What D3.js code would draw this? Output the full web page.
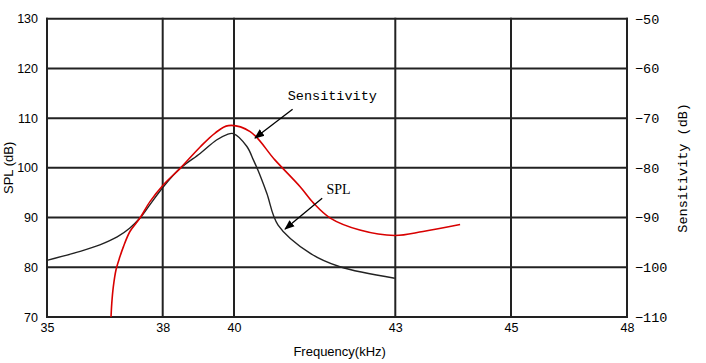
<!DOCTYPE html>
<html>
<head>
<meta charset="utf-8">
<script src="https://cdn.jsdelivr.net/npm/d3@7"></script>
<style>
body { margin: 0; background: #fff; }
.grid line { stroke: #222; stroke-width: 2; }
.axis text { fill: #000; }
</style>
</head>
<body>
<script>
// x ticks (the original grid is not evenly spaced between labels)
var freqTicks = [35, 38, 40, 43, 45, 48];
var splTicks = [70, 80, 90, 100, 110, 120, 130];
var sensTicks = [-110, -100, -90, -80, -70, -60, -50];

// SPL curve (kHz, dB)
var splFreq = [35.00, 35.86, 36.37, 36.82, 37.15, 37.41, 37.67, 38.02, 38.49, 39.05, 39.51, 39.80, 39.98, 40.24, 40.36, 40.45, 40.61, 40.82, 41.42, 41.97, 42.99];
var splVal  = [81.4, 83.2, 84.5, 86.1, 87.9, 89.9, 92.6, 96.2, 99.9, 102.9, 105.6, 106.7, 106.9, 104.3, 101.6, 99.4, 94.9, 88.5, 82.8, 80.1, 77.8];

// Sensitivity curve (kHz, dB)
var sensFreq = [36.66, 36.68, 36.72, 36.79, 36.89, 36.98, 37.15, 37.41, 37.67, 38.02, 38.49, 39.05, 39.47, 39.84, 40.30, 40.76, 41.23, 41.48, 41.79, 42.34, 42.99, 43.48, 44.12];
var sensVal  = [-110, -107.2, -103.9, -100.5, -97.9, -95.9, -92.8, -90.1, -86.8, -83.4, -80.1, -75.8, -73.0, -71.5, -72.7, -78.4, -83.8, -87.1, -90.1, -92.5, -93.6, -92.8, -91.4];

var W = 706, H = 363;
var mLeft = 47, mRight = 627, mTop = 18.7, mBottom = 317;

var svg = d3.select("body").append("svg")
    .attr("width", W)
    .attr("height", H);

svg.append("rect").attr("width", W).attr("height", H).attr("fill", "#fff");

// piecewise x scale, one segment per grid interval
var x = d3.scaleLinear()
    .domain(freqTicks)
    .range([mLeft, 162.7, 234, 395.3, 511, mRight]);

var y = d3.scaleLinear()
    .domain([70, 130])
    .range([mBottom, mTop]);

var y2 = d3.scaleLinear()
    .domain([-110, -50])
    .range([mBottom, mTop]);

// grid
var grid = svg.append("g").attr("class", "grid");
grid.selectAll("line.h")
    .data(splTicks)
    .enter().append("line")
    .attr("x1", mLeft - 1).attr("x2", mRight + 1)
    .attr("y1", function(d) { return y(d); })
    .attr("y2", function(d) { return y(d); });
grid.selectAll("line.v")
    .data(freqTicks)
    .enter().append("line")
    .attr("x1", function(d) { return x(d); })
    .attr("x2", function(d) { return x(d); })
    .attr("y1", mTop - 1).attr("y2", mBottom + 1);

// axes, labels only
var yAxis = d3.axisLeft(y).tickValues(splTicks).tickSize(0).tickPadding(9);
svg.append("g")
    .attr("class", "axis")
    .attr("transform", "translate(" + mLeft + ",0)")
    .call(yAxis)
    .call(function(g) { g.select(".domain").remove(); })
    .selectAll("text")
    .style("font-family", "Liberation Sans, Arial, sans-serif")
    .style("font-size", "12.5px");

var y2Axis = d3.axisRight(y2).tickValues(sensTicks).tickSize(0).tickPadding(8)
    .tickFormat(function(d) { return d3.format("d")(d).replace("-", "\u2212"); });
svg.append("g")
    .attr("class", "axis")
    .attr("transform", "translate(" + mRight + ",0)")
    .call(y2Axis)
    .call(function(g) { g.select(".domain").remove(); })
    .selectAll("text")
    .style("font-family", "Liberation Mono, DejaVu Sans Mono, monospace")
    .style("font-size", "13.5px");

var xAxis = d3.axisBottom(x).tickValues(freqTicks).tickSize(0).tickPadding(6);
svg.append("g")
    .attr("class", "axis")
    .attr("transform", "translate(0," + mBottom + ")")
    .call(xAxis)
    .call(function(g) { g.select(".domain").remove(); })
    .selectAll("text")
    .style("font-family", "Liberation Sans, Arial, sans-serif")
    .style("font-size", "12.5px");

// axis titles
svg.append("text")
    .attr("transform", "translate(13," + ((mTop + mBottom) / 2) + ") rotate(-90)")
    .attr("text-anchor", "middle")
    .style("font-family", "Liberation Sans, Arial, sans-serif")
    .style("font-size", "13px")
    .text("SPL (dB)");

svg.append("text")
    .attr("transform", "translate(687," + ((mTop + mBottom) / 2) + ") rotate(-90)")
    .attr("text-anchor", "middle")
    .style("font-family", "Liberation Mono, DejaVu Sans Mono, monospace")
    .style("font-size", "13.5px")
    .text("Sensitivity (dB)");

svg.append("text")
    .attr("x", (x(40) + x(43)) / 2 + 25)
    .attr("y", 356)
    .attr("text-anchor", "middle")
    .style("font-family", "Liberation Sans, Arial, sans-serif")
    .style("font-size", "13px")
    .text("Frequency(kHz)");

// curves
var splLine = d3.line()
    .x(function(d) { return x(d[0]); })
    .y(function(d) { return y(d[1]); })
    .curve(d3.curveCatmullRom.alpha(0.5));
var sensLine = d3.line()
    .x(function(d) { return x(d[0]); })
    .y(function(d) { return y2(d[1]); })
    .curve(d3.curveCatmullRom.alpha(0.5));

svg.append("path")
    .datum(d3.zip(splFreq, splVal))
    .attr("d", splLine)
    .attr("fill", "none")
    .attr("stroke", "#222")
    .attr("stroke-width", 1.4);

svg.append("path")
    .datum(d3.zip(sensFreq, sensVal))
    .attr("d", sensLine)
    .attr("fill", "none")
    .attr("stroke", "#d80000")
    .attr("stroke-width", 1.6);

// annotations
svg.append("defs").append("marker")
    .attr("id", "arrow")
    .attr("viewBox", "0 0 10 10")
    .attr("refX", 9).attr("refY", 5)
    .attr("markerWidth", 10).attr("markerHeight", 10)
    .attr("markerUnits", "userSpaceOnUse")
    .attr("orient", "auto")
    .append("path")
    .attr("d", "M0,1 L10,5 L0,9 Z")
    .attr("fill", "#000");

var notes = [
    {text: "Sensitivity", tx: 41.0, ty: -66.4, x1: 41.09, y1: -68.2, x2: 40.39, y2: -74.0, font: "Liberation Mono, DejaVu Sans Mono, monospace"},
    {text: "SPL", tx: 41.72, ty: 94.7, x1: 41.64, y1: 93.9, x2: 40.95, y2: 87.7, font: "Liberation Serif, Times New Roman, serif"}
];

notes.forEach(function(n) {
    var ys = n.text === "SPL" ? y : y2;
    svg.append("text")
        .attr("x", x(n.tx))
        .attr("y", ys(n.ty))
        .style("font-family", n.font)
        .style("font-size", n.text === "SPL" ? "14px" : "13.5px")
        .text(n.text);
    svg.append("line")
        .attr("x1", x(n.x1)).attr("y1", ys(n.y1))
        .attr("x2", x(n.x2)).attr("y2", ys(n.y2))
        .attr("stroke", "#000")
        .attr("stroke-width", 1.3)
        .attr("marker-end", "url(#arrow)");
});
</script>
</body>
</html>
